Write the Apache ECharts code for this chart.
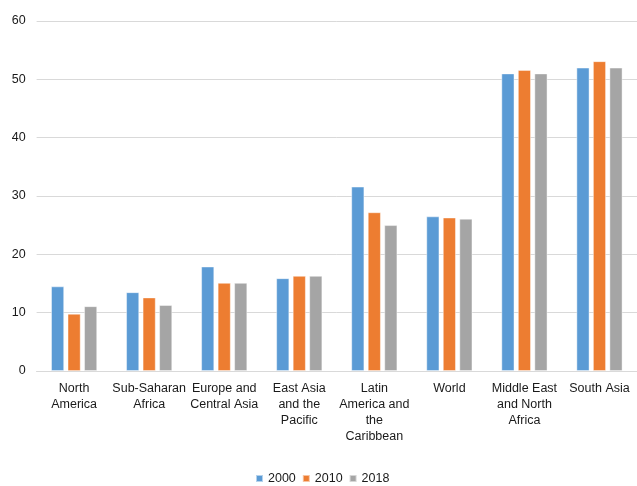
<!DOCTYPE html>
<html>
<head>
<meta charset="utf-8">
<script src="https://cdn.jsdelivr.net/npm/echarts@6/dist/echarts.min.js"></script>
<style>
  html, body { margin: 0; padding: 0; background: #ffffff; }
  #chart { width: 637px; height: 486px; }
</style>
</head>
<body>
<div id="chart"></div>
<script>
// Regions along the category axis
const regions = [
  'North\nAmerica',
  'Sub-Saharan\nAfrica',
  'Europe and\nCentral Asia',
  'East Asia\nand the\nPacific',
  'Latin\nAmerica and\nthe\nCaribbean',
  'World',
  'Middle East\nand North\nAfrica',
  'South Asia'
];

// Values per year
const years = ['2000', '2010', '2018'];
const values2000 = [14.5, 13.5, 17.9, 15.9, 31.6, 26.5, 51.0, 52.0];
const values2010 = [9.8, 12.6, 15.1, 16.3, 27.2, 26.3, 51.6, 53.1];
const values2018 = [11.1, 11.3, 15.1, 16.3, 25.0, 26.1, 51.0, 52.0];

// Value axis ticks
const yMin = 0;
const yMax = 60;
const yStep = 10;

const palette = ['#5B9BD5', '#ED7D31', '#A5A5A5'];
const font = 'Liberation Sans, Arial, sans-serif';
const textColor = '#1a1a1a';

const chart = echarts.init(document.getElementById('chart'), null, { renderer: 'canvas' });

const seriesData = [values2000, values2010, values2018];

chart.setOption({
  animation: false,
  backgroundColor: '#ffffff',
  color: palette,
  grid: {
    left: 36.6,
    right: -6.4,
    top: 21,
    bottom: 115,
    containLabel: false
  },
  legend: {
    data: years,
    top: 467,
    left: 250,
    itemWidth: 7,
    itemHeight: 7,
    itemGap: 6,
    icon: 'rect',
    textStyle: { fontFamily: font, fontSize: 12.5, color: textColor }
  },
  xAxis: {
    type: 'category',
    data: regions,
    axisLine: { show: true, lineStyle: { color: '#D9D9D9', width: 1 } },
    axisTick: { show: false },
    axisLabel: {
      interval: 0,
      margin: 10,
      fontFamily: font,
      fontSize: 12.5,
      lineHeight: 16,
      color: textColor,
      align: 'center'
    }
  },
  yAxis: {
    type: 'value',
    min: yMin,
    max: yMax,
    interval: yStep,
    axisLine: { show: false },
    axisTick: { show: false },
    splitLine: { lineStyle: { color: '#D9D9D9', width: 1 } },
    axisLabel: {
      margin: 11,
      fontFamily: font,
      fontSize: 12.5,
      color: textColor
    }
  },
  series: years.map((y, i) => ({
    name: y,
    type: 'bar',
    data: seriesData[i],
    barWidth: 13,
    barGap: '27%',
    itemStyle: {
      color: palette[i],
      borderColor: 'rgba(255,255,255,0.55)',
      borderWidth: 0.8
    }
  }))
});
</script>
</body>
</html>
